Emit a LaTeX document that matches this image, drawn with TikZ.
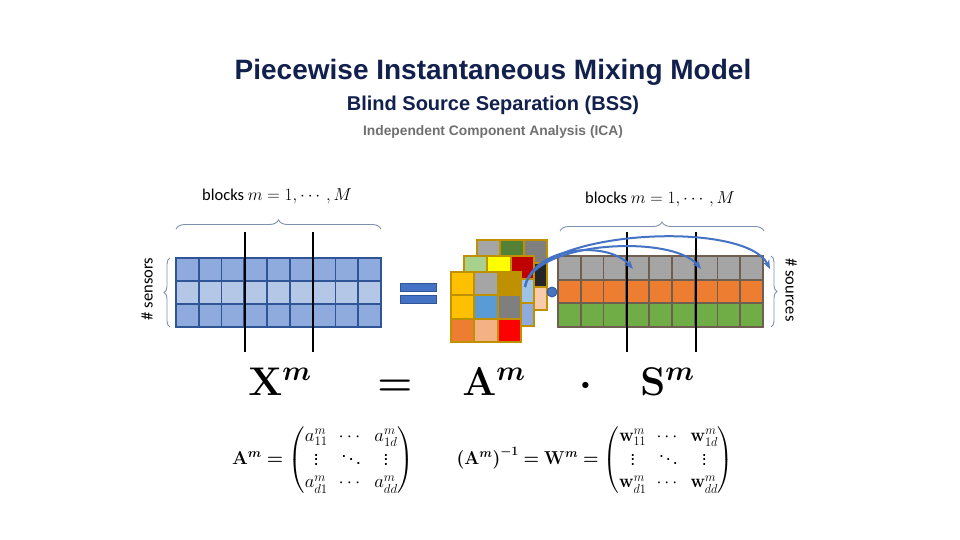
\documentclass[tikz,border=0pt]{standalone}
\usepackage{amsmath}
\usepackage[no-math]{fontspec}
\setmainfont{Liberation Sans}
\newfontfamily\calib{Carlito}
\usetikzlibrary{arrows.meta,decorations.pathreplacing}
\definecolor{navy}{RGB}{17,32,77}
\definecolor{icagray}{RGB}{112,112,112}
\definecolor{lgA}{RGB}{143,170,220}
\definecolor{lgB}{RGB}{180,199,231}
\definecolor{lgborder}{RGB}{47,85,151}
\definecolor{sgray}{RGB}{165,165,165}
\definecolor{sorange}{RGB}{237,125,49}
\definecolor{sgreen}{RGB}{112,173,71}
\definecolor{sborder}{RGB}{110,95,80}
\definecolor{mborder}{RGB}{191,144,0}
\definecolor{bracec}{RGB}{125,145,175}
\definecolor{arrowblue}{RGB}{68,114,196}
\definecolor{c1}{RGB}{165,165,165}
\definecolor{c2}{RGB}{84,130,53}
\definecolor{c3}{RGB}{127,127,127}
\definecolor{c4}{RGB}{38,38,38}
\definecolor{c5}{RGB}{248,203,173}
\definecolor{c6}{RGB}{169,209,142}
\definecolor{c7}{RGB}{255,255,0}
\definecolor{c8}{RGB}{192,0,0}
\definecolor{c9}{RGB}{157,195,230}
\definecolor{c10}{RGB}{143,170,220}
\definecolor{c11}{RGB}{255,192,0}
\definecolor{c12}{RGB}{191,144,0}
\definecolor{c13}{RGB}{91,155,213}
\definecolor{c14}{RGB}{237,125,49}
\definecolor{c15}{RGB}{244,177,131}
\definecolor{c16}{RGB}{255,0,0}
\tikzset{
  lgcell/.style={draw=lgborder, line width=1.8pt},
  sgcell/.style={draw=sborder, line width=1.8pt},
  mcell/.style={draw=mborder, line width=1.8pt},
  blockline/.style={draw=black, line width=1.8pt},
  bracestyle/.style={draw=bracec, line width=0.9pt, decorate},
  mixarrow/.style={draw=arrowblue, line width=2pt, -{Stealth[length=9pt,width=7pt]}},
  eqbar/.style={fill=arrowblue, draw=lgborder, line width=0.8pt},
  lbl/.style={font=\calib\fontsize{16.5}{19}\selectfont, inner sep=0pt},
  bigmath/.style={inner sep=0pt, font=\fontsize{20.74}{25}\selectfont, scale=1.93},
  formula/.style={inner sep=0pt, font=\fontsize{17.28}{21}\selectfont, scale=1.08},
}
\begin{document}
\begin{tikzpicture}[x=1pt,y=-1pt]
\useasboundingbox[fill=white] (0,0) rectangle (960,540);

% titles
\node[text=navy, font=\bfseries\fontsize{28}{32}\selectfont] (title) at (493,72) {Piecewise Instantaneous Mixing Model};
\node[text=navy, font=\bfseries\fontsize{20}{23}\selectfont] (sub) at (493,105) {Blind Source Separation (BSS)};
\node[text=icagray, font=\bfseries\fontsize{13.8}{16}\selectfont] (ica) at (493,132) {Independent Component Analysis (ICA)};

% left grid X
\foreach \i in {0,...,8}
  \foreach \j/\c in {0/lgA,1/lgB,2/lgA}
    \draw[lgcell, fill=\c] ({176+\i*205/9},{258+\j*23}) rectangle ++({205/9},23);
\draw[blockline] (245,232) -- (245,352);
\draw[blockline] (313,232) -- (313,352);
\draw[bracestyle, decoration={brace, amplitude=9pt}] (176,229) -- (381,229);
\node[lbl] (blL) at (277,196) {blocks $m=1,\cdots,M$};
\draw[bracestyle, decoration={brace, amplitude=6pt}] (170,327) -- (170,258);
\node[lbl, rotate=90] (sens) at (147,289) {\# sensors};

% equals bars
\draw[eqbar] (400,283) rectangle (436,291);
\draw[eqbar] (400,295) rectangle (436,303);

% mixing matrices (back, middle, front)
\foreach \c [count=\k from 0] in {c1,c2,c3,c3,c3,c4,c3,c3,c5}
  \draw[mcell, fill=\c] ({477+mod(\k,3)*70/3},{240+int(\k/3)*70/3}) rectangle ++({70/3},{70/3});
\foreach \c [count=\k from 0] in {c6,c7,c8,c9,c9,c9,c10,c10,c10}
  \draw[mcell, fill=\c] ({464+mod(\k,3)*70/3},{256+int(\k/3)*70/3}) rectangle ++({70/3},{70/3});
\foreach \c [count=\k from 0] in {c11,c1,c12,c11,c13,c3,c14,c15,c16}
  \draw[mcell, fill=\c] ({451+mod(\k,3)*70/3},{272+int(\k/3)*70/3}) rectangle ++({70/3},{70/3});

% blue dot
\node[circle, fill=arrowblue, draw=lgborder, line width=0.8pt, minimum size=10pt, inner sep=0pt] (dot) at (552,292) {};

% right grid S
\foreach \i in {0,...,8}
  \foreach \j/\c in {0/sgray,1/sorange,2/sgreen}
    \draw[sgcell, fill=\c] ({558+\i*205/9},{256+\j*71/3}) rectangle ++({205/9},{71/3});
\draw[blockline] (627,232) -- (627,352);
\draw[blockline] (696,232) -- (696,352);
\draw[bracestyle, decoration={brace, amplitude=9pt}] (560,231) -- (764,231);
\node[lbl] (blR) at (660,199) {blocks $m=1,\cdots,M$};
\draw[bracestyle, decoration={brace, amplitude=6pt}] (771,256) -- (771,327);
\node[lbl, rotate=-90] (src) at (791,290) {\# sources};

% arrows
\coordinate (s) at (525,287);
\coordinate (t1) at (633,269);
\coordinate (t2) at (701,269);
\coordinate (t3) at (770,269);
\draw[mixarrow] (s) .. controls (533,246) and (608,240) .. (t1);
\draw[mixarrow] (s) .. controls (533,241) and (672,234) .. (t2);
\draw[mixarrow] (s) .. controls (533,230) and (745,219) .. (t3);

% big equation
\node[bigmath, anchor=base west] (X) at (248,395) {$\mathbf{X}^{\boldsymbol{m}}$};
\node[bigmath, anchor=base] (eq) at (395,395) {$\boldsymbol{=}$};
\node[bigmath, anchor=base west] (A) at (462,395) {$\mathbf{A}^{\boldsymbol{m}}$};
\node[bigmath, anchor=base] (cdot) at (586,395) {$\boldsymbol{\cdot}$};
\node[bigmath, anchor=base west] (S) at (640,395) {$\mathbf{S}^{\boldsymbol{m}}$};

% bottom formulas
\node[formula] (Aform) at (323,460)
  {$\mathbf{A}^{\boldsymbol{m}}\boldsymbol{=}\begin{pmatrix} a^{m}_{11} & \cdots & a^{m}_{1d}\\ \vdots & \ddots & \vdots\\ a^{m}_{d1} & \cdots & a^{m}_{dd}\end{pmatrix}$};
\node[formula, xscale=0.95] (Wform) at (595,460)
  {$\boldsymbol{(}\mathbf{A}^{\boldsymbol{m}}\boldsymbol{)}^{\boldsymbol{-1}}\boldsymbol{=}\mathbf{W}^{\boldsymbol{m}}\boldsymbol{=}\begin{pmatrix} \mathbf{w}^{m}_{11} & \cdots & \mathbf{w}^{m}_{1d}\\ \vdots & \ddots & \vdots\\ \mathbf{w}^{m}_{d1} & \cdots & \mathbf{w}^{m}_{dd}\end{pmatrix}$};
\end{tikzpicture}
\end{document}
